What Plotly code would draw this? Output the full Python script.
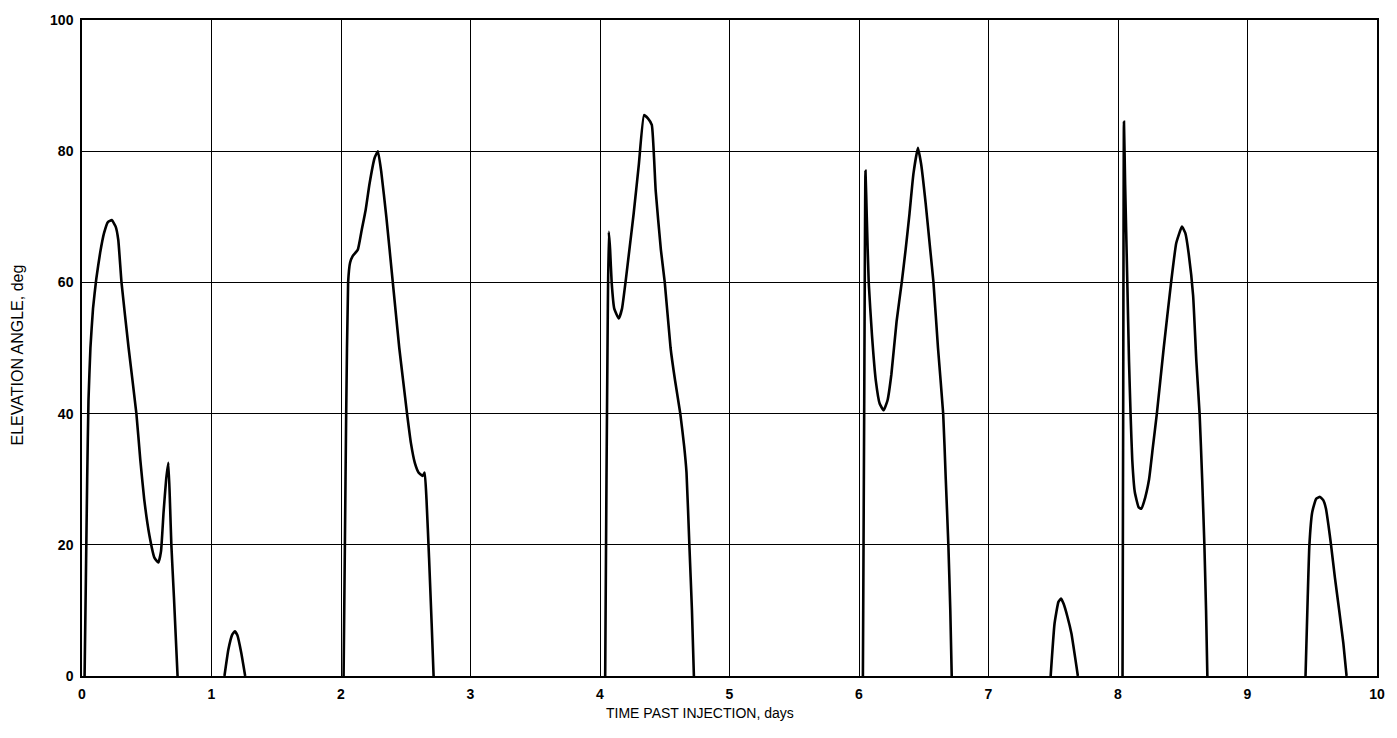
import plotly.graph_objects as go

# Elevation angle of the satellite seen from the station, one list per pass
pass_days = [
    [0.02, 0.03, 0.04, 0.05, 0.065, 0.085, 0.11, 0.14, 0.17, 0.20, 0.23, 0.26, 0.28,
     0.305, 0.36, 0.42, 0.45, 0.48, 0.52, 0.56, 0.59, 0.61, 0.63, 0.65, 0.667,
     0.68, 0.69, 0.71, 0.738],
    [1.10, 1.13, 1.16, 1.18, 1.20, 1.23, 1.26],
    [2.02, 2.03, 2.04, 2.055, 2.07, 2.09, 2.13, 2.16, 2.19, 2.22, 2.26, 2.285, 2.31,
     2.35, 2.40, 2.45, 2.48, 2.51, 2.54, 2.57, 2.60, 2.63, 2.646, 2.66, 2.68, 2.70,
     2.715],
    [4.04, 4.05, 4.06, 4.068, 4.078, 4.09, 4.11, 4.145, 4.17, 4.20, 4.23, 4.26, 4.30,
     4.34, 4.37, 4.40, 4.43, 4.47, 4.50, 4.545, 4.58, 4.62, 4.65, 4.668,
     4.69, 4.71, 4.725],
    [6.03, 6.04, 6.05, 6.06, 6.075, 6.10, 6.13, 6.16, 6.19, 6.22, 6.25, 6.29, 6.33,
     6.36, 6.39, 6.42, 6.455, 6.48, 6.515, 6.55, 6.575, 6.61, 6.65, 6.67, 6.69,
     6.705, 6.716],
    [7.48, 7.51, 7.54, 7.56, 7.58, 7.61, 7.64, 7.69],
    [8.035, 8.04, 8.046, 8.055, 8.072, 8.085, 8.097, 8.11, 8.13, 8.16, 8.18, 8.20,
     8.24, 8.27, 8.30, 8.353, 8.41, 8.45, 8.494, 8.52, 8.545, 8.58, 8.605, 8.63,
     8.65, 8.667, 8.68, 8.69],
    [9.448, 9.465, 9.478, 9.50, 9.53, 9.56, 9.585, 9.606, 9.625, 9.645, 9.675,
     9.708, 9.74, 9.765],
]
pass_angles = [
    [0, 15, 30, 42, 50, 56, 60.5, 64.5, 67.5, 69.2, 69.5, 68.5, 66.5,
     60, 50, 40, 33, 27, 21.5, 18, 17.3, 19, 25, 30, 32.5,
     26, 20, 12, 0],
    [0, 4, 6.3, 6.8, 6.2, 3.5, 0],
    [0, 20, 40, 60, 63, 64, 65, 68, 71, 75, 79, 80, 77,
     70, 60, 50, 45, 40, 35.5, 32.5, 31, 30.5, 31, 27, 18, 8,
     0],
    [0, 30, 55, 67.7, 65, 60, 56, 54.5, 56, 60.5, 65.5, 70.5, 78,
     85.5, 85, 84, 74, 65, 60, 50, 45, 40, 35, 31,
     20, 10, 0],
    [0, 40, 77, 70, 60, 52, 45, 41.5, 40.5, 42, 46, 54, 60,
     65, 70.5, 76.5, 80.5, 78, 72, 65, 60, 50, 40, 30, 20,
     10, 0],
    [0, 8, 11.3, 11.8, 11, 9, 6.5, 0],
    [0, 40, 84.5, 75, 60, 48, 40, 33, 28, 25.7, 25.5, 26.5,
     30, 35, 40, 50, 60, 66, 68.5, 67.5, 64.5, 58, 48, 40,
     30, 20, 10, 0],
    [0, 12, 20, 25, 27, 27.3, 26.8, 25.5, 23, 20, 15,
     10, 5, 0],
]

x_ticks = list(range(0, 11))
y_ticks = [0, 20, 40, 60, 80, 100]

# Join the passes into one trace, broken between passes
xs, ys = [], []
for d, a in zip(pass_days, pass_angles):
    xs += d + [None]
    ys += a + [None]

fig = go.Figure()
fig.add_trace(go.Scatter(
    x=xs, y=ys, mode="lines",
    line=dict(color="black", width=2.6, shape="spline", smoothing=0.4),
    connectgaps=False, showlegend=False, hoverinfo="skip",
))

font_family = "Liberation Sans, Arial, sans-serif"
axis_common = dict(
    showgrid=True, gridcolor="black", gridwidth=1,
    zeroline=False, showline=True, linecolor="black", linewidth=1.5,
    mirror=True, ticks="",
    tickfont=dict(family=font_family, size=14, color="black", weight="bold"),
)

fig.update_layout(
    width=1397, height=738,
    margin=dict(l=82, r=19, t=13, b=62),
    paper_bgcolor="white", plot_bgcolor="white",
    xaxis=dict(range=[0, 10], tickvals=x_ticks, ticktext=[str(v) for v in x_ticks],
               ticklabelstandoff=4, **axis_common),
    yaxis=dict(range=[0, 100], tickvals=y_ticks, ticktext=[str(v) for v in y_ticks],
               ticklabelstandoff=4, **axis_common),
)

# Axis titles placed in page pixels
w, h = 1397, 738
pl, pr, pt, pb = 82, 19, 13, 62
pw, ph = w - pl - pr, h - pt - pb
fig.add_annotation(text="TIME PAST INJECTION, days", xref="paper", yref="paper",
                   x=(700 - pl) / pw, y=(h - pb - 713) / ph,
                   xanchor="center", yanchor="middle", showarrow=False,
                   font=dict(family=font_family, size=14, color="black"))
fig.add_annotation(text="ELEVATION ANGLE, deg", xref="paper", yref="paper",
                   x=(17 - pl) / pw, y=(h - pb - 352) / ph, textangle=-90,
                   xanchor="center", yanchor="middle", showarrow=False,
                   font=dict(family=font_family, size=16, color="black"))

fig.write_html("out.html")
